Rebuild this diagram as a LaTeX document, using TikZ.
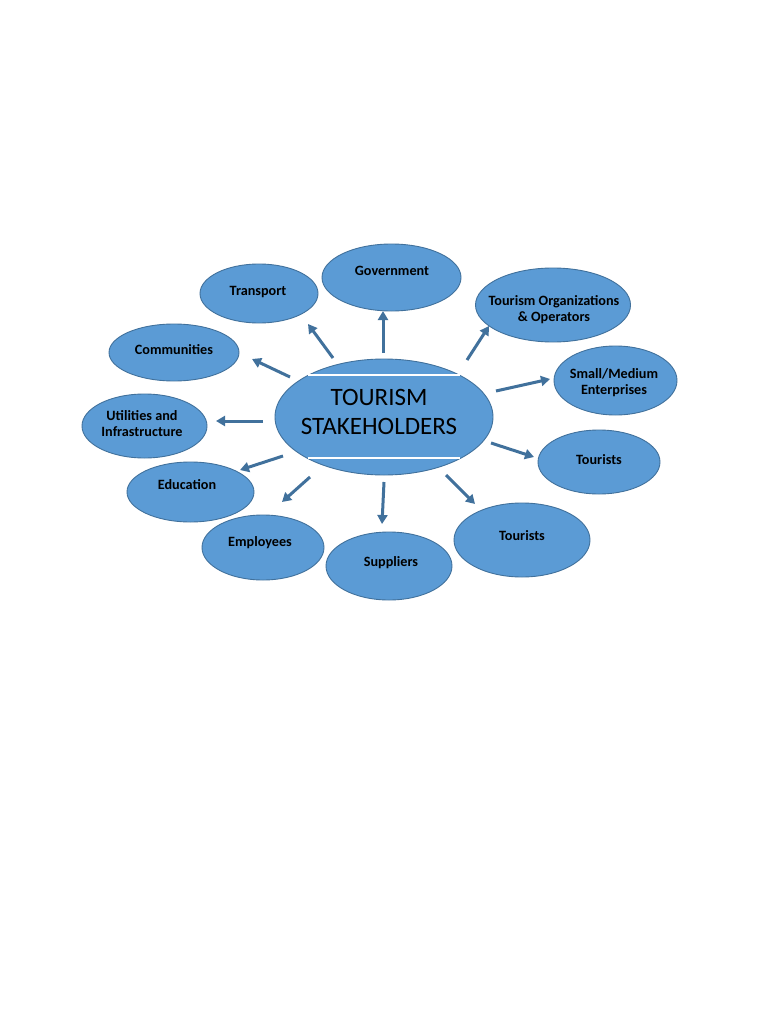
\documentclass[tikz,border=0pt]{standalone}
\usepackage{fontspec}
\setmainfont{Carlito}
\usetikzlibrary{shapes.geometric,arrows.meta}
\definecolor{fillblue}{HTML}{5B9BD5}
\definecolor{edgeblue}{HTML}{41719C}
\definecolor{arrblue}{HTML}{41719C}
\tikzset{
  oval/.style={ellipse, draw=edgeblue, fill=fillblue, line width=0.9pt, inner sep=0pt},
  lbl/.style={font=\fontsize{14.2}{16}\selectfont\bfseries, align=center, text=black, inner sep=0pt},
  arr/.style={draw=arrblue, line width=3pt, -{Triangle[length=9pt,width=10pt]}},
}
\begin{document}
\begin{tikzpicture}[x=1pt,y=-1pt]
\useasboundingbox[fill=white] (0,0) rectangle (768,1024);
% center
\node[oval, minimum width=218pt, minimum height=116pt] (c) at (384,417) {};
\coordinate (wl1) at (308,375); \coordinate (wr1) at (460,375);
\coordinate (wl2) at (308,458); \coordinate (wr2) at (460,458);
\draw[white, line width=1.5pt] (wl1) -- (wr1);
\draw[white, line width=1.5pt] (wl2) -- (wr2);
\node[align=center, inner sep=0pt, font=\fontsize{25}{29}\selectfont] (ct) at (379,411.5) {TOURISM\\STAKEHOLDERS};
% outer ellipses
\node[oval, minimum width=139pt, minimum height=67pt] (gov) at (391.5,277.5) {};
\node[lbl] (govt) at (392,271) {Government};
\node[oval, minimum width=118pt, minimum height=59pt] (tra) at (259,293.5) {};
\node[lbl] (trat) at (258,292) {Transport};
\node[oval, minimum width=155pt, minimum height=74pt] (org) at (553,305) {};
\node[lbl] (orgt) at (554,309.5) {Tourism Organizations\\\& Operators};
\node[oval, minimum width=123pt, minimum height=69pt] (sme) at (615.5,380.5) {};
\node[lbl] (smet) at (614,382.5) {Small/Medium\\Enterprises};
\node[oval, minimum width=122pt, minimum height=64pt] (tr) at (599,462) {};
\node[lbl] (trt) at (599,460) {Tourists};
\node[oval, minimum width=136pt, minimum height=74pt] (tb) at (522,540) {};
\node[lbl] (tbt) at (522,536) {Tourists};
\node[oval, minimum width=126pt, minimum height=68pt] (sup) at (389,566) {};
\node[lbl] (supt) at (391,563) {Suppliers};
\node[oval, minimum width=122pt, minimum height=65pt] (emp) at (263,547.5) {};
\node[lbl] (empt) at (260,542.5) {Employees};
\node[oval, minimum width=127pt, minimum height=60pt] (edu) at (190.5,492) {};
\node[lbl] (edut) at (187,485) {Education};
\node[oval, minimum width=125pt, minimum height=64pt] (uti) at (144.5,426) {};
\node[lbl] (utit) at (142,424) {Utilities and\\Infrastructure};
\node[oval, minimum width=130pt, minimum height=57pt] (com) at (174,352.5) {};
\node[lbl] (comt) at (174,350) {Communities};
% arrow endpoints
\coordinate (a1) at (383,353); \coordinate (b1) at (383,311);
\coordinate (a2) at (333,358); \coordinate (b2) at (308,324);
\coordinate (a3) at (467,360); \coordinate (b3) at (489,326);
\coordinate (a4) at (496,391); \coordinate (b4) at (550,379);
\coordinate (a5) at (491,443); \coordinate (b5) at (534,457);
\coordinate (a6) at (446,475); \coordinate (b6) at (475,504);
\coordinate (a7) at (384,482); \coordinate (b7) at (382,524);
\coordinate (a8) at (310,477); \coordinate (b8) at (282,502);
\coordinate (a9) at (283,456); \coordinate (b9) at (240,470);
\coordinate (a10) at (263,421); \coordinate (b10) at (216,421);
\coordinate (a11) at (290,377); \coordinate (b11) at (252,359);
\foreach \i in {1,...,11} {\draw[arr] (a\i) -- (b\i);}
\end{tikzpicture}
\end{document}
